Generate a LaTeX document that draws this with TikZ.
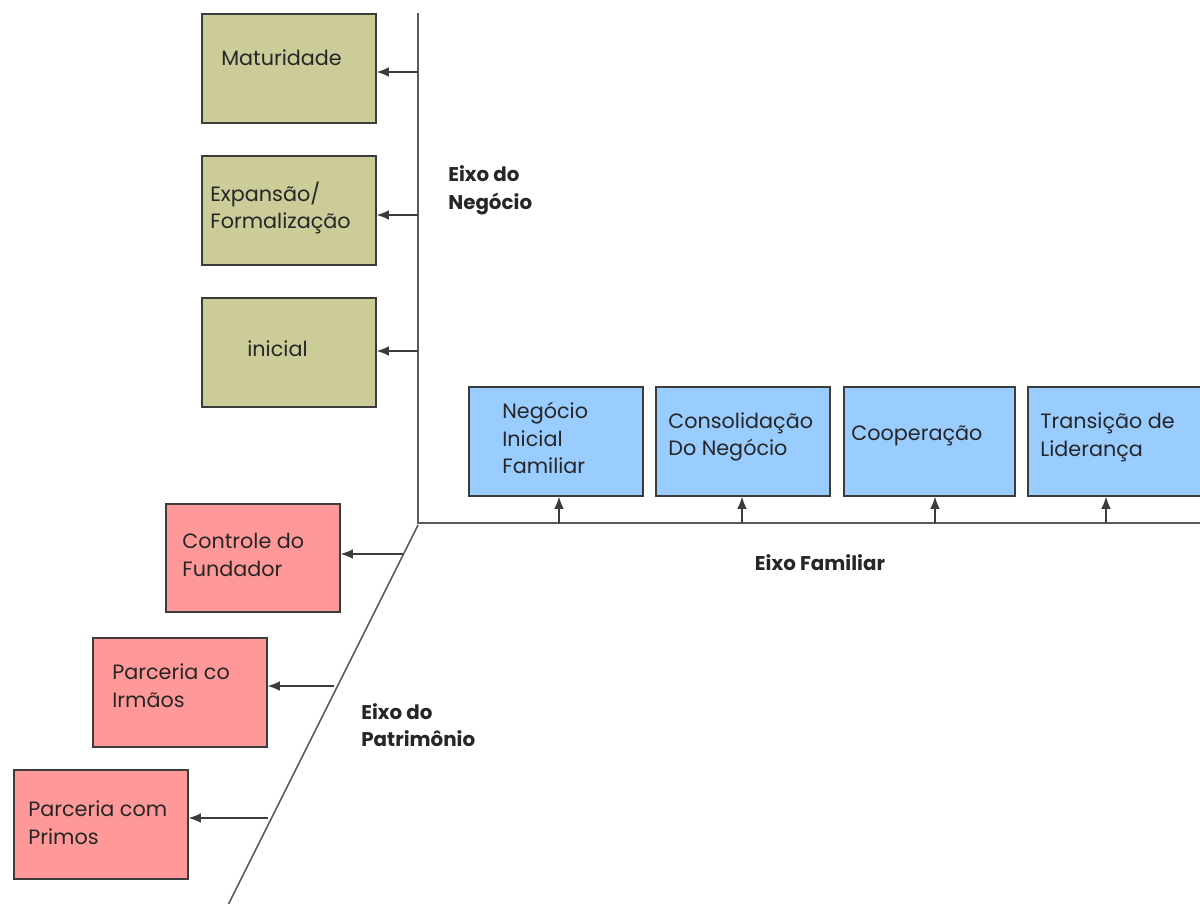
\documentclass[tikz,border=0pt]{standalone}
\usepackage{fontspec}
\setmainfont{Poppins}
\usetikzlibrary{arrows.meta}
\definecolor{olivefill}{HTML}{CCCC99}
\definecolor{bluefill}{HTML}{99CCFF}
\definecolor{pinkfill}{HTML}{FF9999}
\definecolor{edge}{HTML}{3C3C3C}
\definecolor{axis}{HTML}{5A5A5A}
\definecolor{ink}{HTML}{262626}
\begin{document}
\begin{tikzpicture}[x=0.02cm,y=-0.02cm,
  box/.style={draw=edge, line width=0.9pt, inner sep=0pt, anchor=north west,
    minimum width=3.48cm, minimum height=2.18cm},
  olivebox/.style={box, fill=olivefill},
  bluebox/.style={box, fill=bluefill},
  pinkbox/.style={box, fill=pinkfill},
  txt/.style={anchor=west, align=left, inner sep=0pt, text=ink,
    font=\fontsize{11.8}{15.8}\selectfont},
  axislabel/.style={align=left, inner sep=0pt, text=black!85,
    font=\fontsize{11.3}{15.8}\selectfont\bfseries},
  axisline/.style={draw=axis, line width=0.9pt},
  arr/.style={draw=edge, line width=0.85pt, -{Latex[length=7pt,width=5.5pt]}}
]
\useasboundingbox[fill=white] (0,0) rectangle (1200,903);
\clip (0,0) rectangle (1200,903);

% axes
\coordinate (O) at (418,523);
\coordinate (top) at (418,13);
\coordinate (right) at (1205,523);
\coordinate (low) at (228,905);
\draw[axisline] (top) -- (O) -- (right);
\draw[axisline] ([yshift=-0.04cm]O) -- (low);

% business axis stages
\node[olivebox] (mat) at (201,13) {};
\node[olivebox] (exp) at (201,155) {};
\node[olivebox] (ini) at (201,297) {};
\node[txt] at (221,58) {Maturidade};
\node[txt] at (210,208) {Expansão/\\Formalização};
\node[txt] at (247,349) {inicial};

% family axis stages
\node[bluebox] (nif) at (468,386) {};
\node[bluebox] (cdn) at (655,386) {};
\node[bluebox, minimum width=3.42cm] (coo) at (843,386) {};
\node[bluebox] (tdl) at (1027,386) {};
\node[txt] at (502,438) {Negócio\\Inicial\\Familiar};
\node[txt] at (668,437) {Consolidação\\Do Negócio};
\node[txt] at (851,436) {Cooperação};
\node[txt] at (1040,437) {Transição de\\Liderança};

% ownership axis stages
\node[pinkbox, minimum height=2.16cm] (cdf) at (165,503) {};
\node[pinkbox] (pci) at (92,637) {};
\node[pinkbox] (pcp) at (13,769) {};
\node[txt] at (182,555) {Controle do\\Fundador};
\node[txt] at (112,686) {Parceria co\\Irmãos};
\node[txt] at (28,823) {Parceria com\\Primos};

% axis titles
\node[axislabel, anchor=west] at (448,190) {Eixo do\\Negócio};
\node[axislabel] at (820,563) {Eixo Familiar};
\node[axislabel, anchor=west] at (361,725) {Eixo do\\Patrimônio};

% arrows from the business axis
\coordinate (v1) at (418,72);
\coordinate (v2) at (418,215);
\coordinate (v3) at (418,351);
\draw[arr] (v1) -- (v1 -| mat.east);
\draw[arr] (v2) -- (v2 -| exp.east);
\draw[arr] (v3) -- (v3 -| ini.east);

% arrows from the family axis
\coordinate (h1) at (559,523);
\coordinate (h2) at (742,523);
\coordinate (h3) at (935,523);
\coordinate (h4) at (1106,523);
\draw[arr] (h1) -- (h1 |- nif.south);
\draw[arr] (h2) -- (h2 |- cdn.south);
\draw[arr] (h3) -- (h3 |- coo.south);
\draw[arr] (h4) -- (h4 |- tdl.south);

% arrows from the ownership axis
\coordinate (d1) at (403,554);
\coordinate (d2) at (334,686);
\coordinate (d3) at (268,818);
\draw[arr] (d1) -- (d1 -| cdf.east);
\draw[arr] (d2) -- (d2 -| pci.east);
\draw[arr] (d3) -- (d3 -| pcp.east);
\end{tikzpicture}
\end{document}
